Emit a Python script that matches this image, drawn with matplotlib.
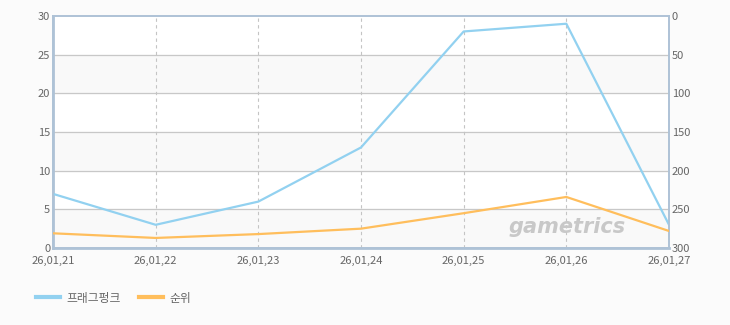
import matplotlib.pyplot as plt
import matplotlib.lines as mlines

plt.rcParams['font.family'] = ['Noto Sans CJK KR', 'DejaVu Sans']

dates = ["26,01,21", "26,01,22", "26,01,23", "26,01,24", "26,01,25", "26,01,26", "26,01,27"]
score = [7, 3, 6, 13, 28, 29, 3]
rank = [281, 287, 282, 275, 255, 234, 278]

blue = "#92d1f0"
orange = "#ffbe5c"
txt = "#666666"
frame = "#aec2d6"

fig = plt.figure(figsize=(7.3, 3.25), dpi=100)
fig.patch.set_facecolor("#fbfbfb")
ax = fig.add_axes([53/730, 77/325, 616/730, 232/325])
ax.set_facecolor("white")

x = list(range(len(dates)))

# alternating bands
for i in range(6):
    if i % 2 == 0:
        ax.axhspan(i*5, i*5+5, color="#f9f9f9", zorder=0)
for v in range(5, 30, 5):
    ax.axhline(v, color="#c8c8c8", lw=0.9, zorder=1)
for xi in x[1:-1]:
    ax.axvline(xi, color="#c4c4c4", lw=0.8, ls=(0, (3, 3)), zorder=1)

ax.plot(x, score, color=blue, lw=1.6, zorder=3)
ax.set_xlim(0, len(dates) - 1)
ax.set_ylim(0, 30)
ax.set_yticks(range(0, 31, 5))
ax.set_xticks(x)
ax.set_xticklabels(dates)

ax2 = ax.twinx()
ax2.plot(x, rank, color=orange, lw=1.6, zorder=3)
ax2.set_ylim(300, 0)
ax2.set_yticks(range(0, 301, 50))

for a in (ax, ax2):
    a.tick_params(length=0, labelsize=8, colors=txt, pad=2)
    for s in a.spines.values():
        s.set_color(frame)
        s.set_linewidth(1.2)
ax.spines["left"].set_linewidth(2)
ax.spines["bottom"].set_linewidth(2)
ax.tick_params(axis="x", pad=6)

ax.text(0.93, 0.09, "gametrics", transform=ax.transAxes, ha="right", va="center",
        fontsize=15, fontweight="bold", style="italic", color="#c8c8c8",
        family="DejaVu Sans", zorder=2)

h1 = mlines.Line2D([], [], color=blue, lw=3)
h2 = mlines.Line2D([], [], color=orange, lw=3)
fig.legend([h1, h2], ["프래그펑크", "순위"], loc="center left", bbox_to_anchor=(0.035, 0.083),
           ncol=2, frameon=False, fontsize=8.5, handlelength=2, columnspacing=1.5,
           handletextpad=0.6, labelcolor=txt)

fig.savefig("out.png", dpi=100, facecolor=fig.get_facecolor())
